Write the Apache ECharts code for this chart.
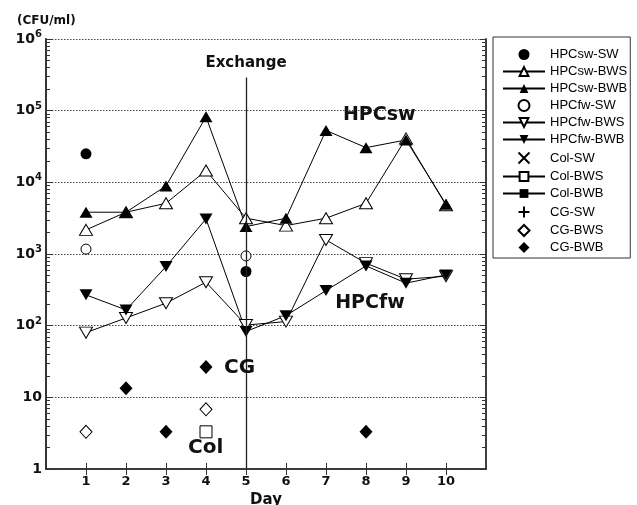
<!DOCTYPE html>
<html>
<head>
<meta charset="utf-8">
<script src="https://cdn.jsdelivr.net/npm/echarts@6/dist/echarts.min.js"></script>
<style>
  html, body { margin: 0; padding: 0; background: #fff; }
  #chart { width: 637px; height: 505px; }
</style>
</head>
<body>
<div id="chart"></div>
<script>
// days on the x axis
const days = [1, 2, 3, 4, 5, 6, 7, 8, 9, 10];
const dayTicks = [1, 2, 3, 4, 5, 6, 7, 8, 9, 10];

// CFU/ml per day (null = not measured)
const hpcswSW  = [25000, null, null, null, 570, null, null, null, null, null];
const hpcswBWS = [2170, 3830, 5100, 14600, 3160, 2490, 3160, 5100, 41000, 4800];
const hpcswBWB = [3830, 3830, 8900, 82000, 2410, 3160, 53000, 30500, 39000, 4950];
const hpcfwSW  = [1170, null, null, null, 940, null, null, null, null, null];
const hpcfwBWS = [80, 128, 206, 404, 102, 114, 1570, 745, 445, 490];
const hpcfwBWB = [269, 166, 667, 3090, 83, 138, 309, 682, 392, 511];
const colSW    = [null, null, null, null, null, null, null, null, null, null];
const colBWS   = [null, null, null, 3.3, null, null, null, null, null, null];
const colBWB   = [null, null, null, null, null, null, null, null, null, null];
const cgSW     = [null, null, null, null, null, null, null, null, null, null];
const cgBWS    = [3.3, null, null, 6.8, null, null, null, null, null, null];
const cgBWB    = [null, 13.4, 3.3, 26.5, null, null, null, 3.3, null, null];

const BOLD = "DejaVu Sans";
const TRI_DOWN = "path://M0,0L2,0L1,2Z";
const CROSS = "path://M0,0L10,10M10,0L0,10";
const PLUS = "path://M5,0L5,10M0,5L10,5";
const DIAMOND = "path://M1,0L2,1L1,2L0,1Z";

// tick positions of the log axis, in decades (log10 of the value)
const majorPos = [0, 1, 2, 3, 4, 5, 6];
const minorPos = [];
for (let d = 0; d < 6; d++) {
  for (let k = 2; k <= 9; k++) minorPos.push(d + Math.log10(k));
}

function pairs(arr) {
  return days.map((d, i) => [d, arr[i]]).filter(p => p[1] != null);
}

function mk(name, type, arr, symbol, size, style) {
  let itemStyle;
  if (style === "filled") itemStyle = { color: "#000", opacity: 1 };
  else if (style === "open") itemStyle = { color: "#fff", borderColor: "#000", borderWidth: 1, opacity: 1 };
  else itemStyle = { color: "none", borderColor: "#000", borderWidth: 1, opacity: 1 };
  return {
    name: name,
    type: type,
    data: pairs(arr),
    symbol: symbol,
    symbolSize: size,
    showAllSymbol: true,
    itemStyle: itemStyle,
    lineStyle: { color: "#000", width: 1 },
    emphasis: { disabled: true },
    animation: false,
    z: 3
  };
}

const series = [
  mk("HPCsw-SW", "scatter", hpcswSW, "circle", 11, "filled"),
  mk("HPCsw-BWS", "line", hpcswBWS, "triangle", [13, 11], "open"),
  mk("HPCsw-BWB", "line", hpcswBWB, "triangle", [13, 11], "filled"),
  mk("HPCfw-SW", "scatter", hpcfwSW, "circle", 10, "open"),
  mk("HPCfw-BWS", "line", hpcfwBWS, TRI_DOWN, [13, 11], "open"),
  mk("HPCfw-BWB", "line", hpcfwBWB, TRI_DOWN, [13, 11], "filled"),
  mk("Col-SW", "scatter", colSW, CROSS, 10, "stroke"),
  mk("Col-BWS", "line", colBWS, "rect", 12, "open"),
  mk("Col-BWB", "line", colBWB, "rect", 12, "filled"),
  mk("CG-SW", "scatter", cgSW, PLUS, 10, "stroke"),
  mk("CG-BWS", "scatter", cgBWS, DIAMOND, [12, 13], "open"),
  mk("CG-BWB", "scatter", cgBWB, DIAMOND, [13, 14], "filled")
];

// exchange line and text annotations
series[2].markLine = {
  silent: true,
  symbol: "none",
  label: { show: false },
  lineStyle: { color: "#222", width: 1.3, type: "solid" },
  data: [[{ coord: [5, 1] }, { coord: [5, 290000] }]]
};
series[2].markPoint = {
  silent: true,
  symbol: "circle",
  symbolSize: 0,
  label: {
    show: true, position: "inside", formatter: "{b}",
    color: "#111", fontFamily: BOLD, fontWeight: "bold", fontSize: 19
  },
  data: [
    { name: "Exchange", coord: [5, 460000], label: { fontSize: 15 } },
    { name: "HPCsw", coord: [8.33, 87000] },
    { name: "HPCfw", coord: [8.1, 210] },
    { name: "CG", coord: [4.84, 25.5], label: { fontSize: 20 } },
    { name: "Col", coord: [3.99, 1.95], label: { fontSize: 20 } }
  ]
};

const axisLine = { show: true, lineStyle: { color: "#333", width: 1.5 } };

// plain axes in decade units, only used to draw the tick marks
function tickAxis(pos, vals, len) {
  return {
    type: "value", min: 0, max: 6, position: pos,
    axisLine: axisLine,
    axisTick: { show: true, inside: true, length: len, customValues: vals, lineStyle: { color: "#333", width: 1 } },
    axisLabel: { show: false },
    splitLine: { show: false }
  };
}

const option = {
  backgroundColor: "#fff",
  animation: false,
  grid: { left: 46, right: 151, top: 39, bottom: 36, outerBoundsMode: "none", containLabel: false },
  title: {
    text: "(CFU/ml)",
    left: 12, top: 10,
    textStyle: { fontFamily: BOLD, fontWeight: "bold", fontSize: 12, color: "#111" }
  },
  legend: {
    orient: "vertical",
    left: 493,
    top: 37,
    padding: [11, 3, 4, 9],
    itemWidth: 42,
    itemHeight: 11,
    itemGap: 4,
    selectedMode: false,
    borderColor: "#333",
    borderWidth: 1,
    textStyle: { fontFamily: "Liberation Sans", fontSize: 13, color: "#000" },
    data: series.map(s => s.name)
  },
  xAxis: [
    {
      type: "value", min: 0, max: 11, interval: 1, position: "bottom",
      axisLine: axisLine,
      axisTick: { inside: true, length: 6, customValues: dayTicks, lineStyle: { color: "#333" } },
      axisLabel: {
        margin: 6, customValues: dayTicks,
        fontFamily: BOLD, fontWeight: "bold", fontSize: 13, color: "#111"
      },
      splitLine: { show: false },
      name: "Day", nameLocation: "middle", nameGap: 22,
      nameTextStyle: { fontFamily: BOLD, fontWeight: "bold", fontSize: 15, color: "#111" }
    },
    {
      type: "value", min: 0, max: 11, interval: 1, position: "top",
      axisLine: axisLine,
      axisTick: { inside: true, length: 6, customValues: dayTicks, lineStyle: { color: "#333" } },
      axisLabel: { show: false },
      splitLine: { show: false }
    }
  ],
  yAxis: [
    {
      type: "log", logBase: 10, min: 1, max: 1000000, position: "left",
      axisLine: axisLine,
      axisTick: { show: false },
      axisLabel: {
        show: true,
        margin: 4,
        formatter: function (v) {
          if (v < 5) return "{b|1}";
          if (v < 50) return "{b|10}";
          return "{b|10}{s|" + Math.round(Math.log10(v)) + "}";
        },
        rich: {
          b: { fontFamily: BOLD, fontWeight: "bold", fontSize: 14, color: "#111" },
          s: { fontFamily: BOLD, fontWeight: "bold", fontSize: 10, color: "#111", padding: [0, 0, 9, 0] }
        }
      },
      splitLine: { show: true, lineStyle: { color: "#444", width: 1, type: [1.5, 1.5] } }
    },
    tickAxis("left", majorPos, 6),
    tickAxis("left", minorPos, 4),
    tickAxis("right", majorPos, 6),
    tickAxis("right", minorPos, 4)
  ],
  series: series
};

const chart = echarts.init(document.getElementById("chart"));
chart.setOption(option);
</script>
</body>
</html>
